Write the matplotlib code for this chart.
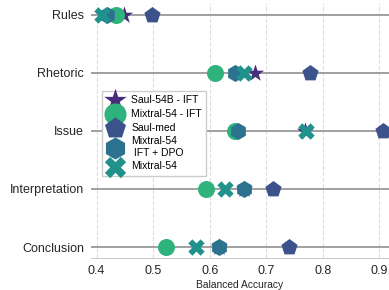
import matplotlib.pyplot as plt
import numpy as np

plt.rcParams['font.family'] = ['Liberation Sans', 'DejaVu Sans']

categories = ["Rules", "Rhetoric", "Issue", "Interpretation", "Conclusion"]
models = ["Saul-54B - IFT", "Mixtral-54 - IFT", "Saul-med", "Mixtral-54\n IFT + DPO", "Mixtral-54"]
saul_ift = [0.448, 0.680, 0.768, 0.660, 0.616]
mixtral_ift = [0.434, 0.610, 0.644, 0.593, 0.522]
saul_med = [0.497, 0.777, 0.906, 0.712, 0.740]
mixtral_dpo = [0.418, 0.644, 0.650, 0.660, 0.616]
mixtral = [0.410, 0.660, 0.770, 0.627, 0.575]

series = [saul_ift, mixtral_ift, saul_med, mixtral_dpo, mixtral]
markers = ["*", "o", "p", "h", "X"]
colors = ["#472d7b", "#2eb37c", "#3b528b", "#2c718e", "#21918c"]
sizes = [170, 150, 150, 150, 140]

fig = plt.figure(figsize=(3.89, 2.90), dpi=100)
ax = fig.add_axes([0.234, 0.11, 0.766, 0.88])

ypos = np.arange(len(categories))[::-1]
for y in ypos:
    ax.axhline(y, color="#999999", lw=1.3, zorder=1)

for vals, m, c, s, lab in zip(series, markers, colors, sizes, models):
    ax.scatter(vals, ypos, marker=m, color=c, s=s, label=lab, zorder=3, linewidths=0)

ax.set_yticks(ypos)
ax.set_yticklabels(categories, fontsize=9, color="#262626")
ax.set_xticks([0.4, 0.5, 0.6, 0.7, 0.8, 0.9])
ax.set_xticklabels(["0.4", "0.5", "0.6", "0.7", "0.8", "0.9"], fontsize=9, color="#262626")
ax.set_xlim(0.39, 0.917)
ax.set_ylim(-0.19, 4.2)
ax.set_xlabel("Balanced Accuracy", fontsize=7.4, color="#262626", labelpad=2)

ax.grid(axis="x", ls="--", color="#dddddd", lw=0.8)
ax.set_axisbelow(True)
for side in ["top", "right", "left"]:
    ax.spines[side].set_visible(False)
ax.spines["bottom"].set_color("#cccccc")
ax.tick_params(axis="y", length=0, pad=5)
ax.tick_params(axis="x", length=0, pad=5)

leg = ax.legend(loc="upper left", bbox_to_anchor=(0.02, 0.675), fontsize=7.5,
                frameon=True, markerscale=1.3, handletextpad=0.8, handlelength=1.6,
                borderpad=0.4, labelspacing=0.35, fancybox=False)
leg.get_frame().set_edgecolor("#cccccc")
leg.get_frame().set_alpha(1)

fig.savefig("out.png", dpi=100)
